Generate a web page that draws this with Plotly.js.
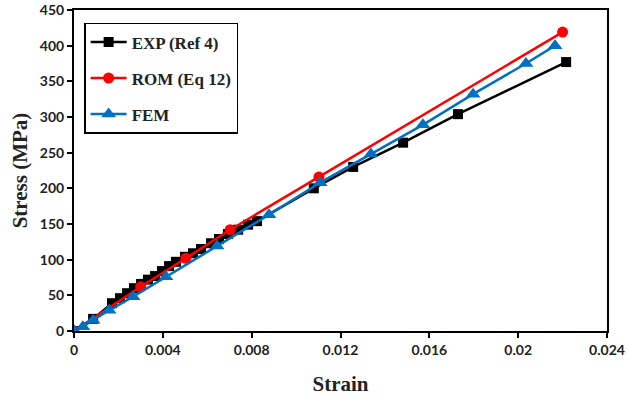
<!DOCTYPE html>
<html>
<head>
<meta charset="utf-8">
<script src="https://cdn.plot.ly/plotly-3.0.1.min.js"></script>
<style>html,body{margin:0;padding:0;background:#fff}#chart{width:628px;height:399px}</style>
</head>
<body>
<div id="chart"></div>
<script>
const seriesNames = ["EXP (Ref 4)", "ROM (Eq 12)", "FEM"];

const expStrain = [0, 0.00086, 0.00171, 0.00207, 0.00239, 0.0027, 0.00302, 0.00333, 0.00365, 0.00396, 0.00428, 0.00459, 0.005, 0.00536, 0.00572, 0.00617, 0.00653, 0.00693, 0.00739, 0.00784, 0.00824, 0.0108, 0.01257, 0.01482, 0.01729, 0.02216];
const expStress = [0, 17, 39, 46, 53, 60, 66, 72, 77, 84, 91, 97, 104, 109, 115, 123, 129, 136, 142, 149, 154, 200, 230, 264, 304, 377];

const romStrain = [0, 0.003, 0.00504, 0.00703, 0.01103, 0.022];
const romStress = [0, 62, 102, 142, 216, 419];

const femStrain = [0, 0.0004, 0.00086, 0.00158, 0.00266, 0.00414, 0.00644, 0.00878, 0.01108, 0.01337, 0.01571, 0.01797, 0.02035, 0.02166];
const femStress = [0, 6, 15, 29, 48, 76, 119, 163, 208, 248, 289, 332, 375, 400];

const xTicks = [0, 0.004, 0.008, 0.012, 0.016, 0.02, 0.024];
const xTickText = ["0", "0.004", "0.008", "0.012", "0.016", "0.02", "0.024"];
const yTicks = [0, 50, 100, 150, 200, 250, 300, 350, 400, 450];

const traces = [
  {x: expStrain, y: expStress, name: seriesNames[0], legendgroup: "a", mode: "lines+markers",
   line: {color: "#000000", width: 2.5}, marker: {symbol: "square", size: 10, color: "#000000"}},
  {x: romStrain, y: romStress, name: seriesNames[1], legendgroup: "b", mode: "lines+markers",
   line: {color: "#ff0000", width: 2.5}, marker: {symbol: "circle", size: 11, color: "#ff0000"}},
  {x: femStrain, y: femStress, name: seriesNames[2], legendgroup: "c", mode: "lines+markers",
   line: {color: "#0070C0", width: 2.5}, marker: {symbol: "triangle-up", size: 13, color: "#0070C0"}}
];

const tickFont = {family: "Lato, 'Open Sans', sans-serif", size: 14, color: "#222", weight: "bold"};
const titleFont = {family: "'Liberation Serif', serif", size: 21, color: "#222", weight: "bold"};

const layout = {
  width: 628, height: 399,
  margin: {l: 74, r: 21, t: 10, b: 68},
  paper_bgcolor: "#fff", plot_bgcolor: "#fff",
  showlegend: true,
  legend: {
    x: 0.019, y: 0.96, xanchor: "left", yanchor: "top",
    bgcolor: "#fff", bordercolor: "#000", borderwidth: 1.5,
    font: {family: "'Liberation Serif', serif", size: 17, color: "#222", weight: "bold"},
    traceorder: "grouped", tracegroupgap: 11, itemwidth: 36
  },
  xaxis: {
    range: [0, 0.024], tickvals: xTicks, ticktext: xTickText,
    showgrid: false, zeroline: false,
    showline: true, linecolor: "#000", linewidth: 2, mirror: true,
    ticks: "outside", ticklen: 5, tickwidth: 2, tickcolor: "#000",
    tickfont: tickFont,
    title: {text: "Strain", font: titleFont, standoff: 20}
  },
  yaxis: {
    range: [0, 450], tickvals: yTicks,
    showgrid: false, zeroline: false,
    showline: true, linecolor: "#000", linewidth: 2, mirror: true,
    ticks: "outside", ticklen: 5, tickwidth: 2, tickcolor: "#000",
    tickfont: tickFont,
    title: {text: "Stress (MPa)", font: titleFont, standoff: 6}
  }
};

Plotly.newPlot("chart", traces, layout, {displayModeBar: false, staticPlot: true});
</script>
</body>
</html>
